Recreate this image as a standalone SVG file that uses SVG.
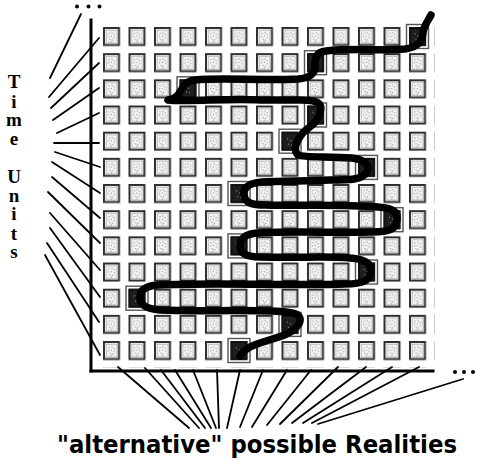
<svg xmlns="http://www.w3.org/2000/svg" xmlns:xlink="http://www.w3.org/1999/xlink" width="480" height="463" viewBox="0 0 480 463">
<style>
.ax{stroke:#000;stroke-width:3;fill:none;stroke-linecap:square}
.tk{stroke:#000;stroke-width:1.8;fill:none;stroke-linecap:round}
.snake{stroke:#000;stroke-width:7.5;fill:none;stroke-linecap:round;stroke-linejoin:round}
.lbl{font-family:"Liberation Serif","DejaVu Serif",serif;font-weight:bold;font-size:19px;text-anchor:middle;fill:#000}
.cap{font-family:"DejaVu Sans","Liberation Sans",sans-serif;font-weight:bold;font-size:24px;fill:#000}
</style>
<defs>
<g id="c">
<rect x="1" y="1" width="15" height="17" fill="#fff" stroke="#2e2e2e" stroke-width="2"/>
<rect x="3.2" y="3.2" width="10.6" height="12.6" fill="#f4f4f4" stroke="#b0b0b0" stroke-width="0.8"/>
<g fill="#808080">
<circle cx="6" cy="6.5" r="0.6"/><circle cx="9" cy="5.8" r="0.6"/><circle cx="11" cy="7.5" r="0.6"/>
<circle cx="5.5" cy="9.5" r="0.6"/><circle cx="8.3" cy="9" r="0.6"/><circle cx="11.2" cy="10.5" r="0.6"/>
<circle cx="7" cy="12.3" r="0.6"/><circle cx="9.5" cy="13" r="0.6"/><circle cx="8.2" cy="14.6" r="0.6"/>
</g>
</g>
<g id="h">
<rect x="-2.5" y="-2.5" width="22" height="24" fill="none" stroke="#555" stroke-width="1.4"/>
<rect x="1" y="1" width="15" height="17" fill="#1e1e1e" stroke="#111" stroke-width="1.9"/>
<g fill="#777">
<circle cx="6" cy="7" r="0.7"/><circle cx="9" cy="9" r="0.7"/><circle cx="7" cy="12.5" r="0.7"/><circle cx="10" cy="13.5" r="0.7"/>
</g>
</g>
<pattern id="grid" x="103" y="27" width="25.5" height="26.17" patternUnits="userSpaceOnUse">
<use xlink:href="#c"/>
</pattern>
</defs>
<rect width="480" height="463" fill="#fff"/>

<g id="cells">
<rect x="103" y="27" width="331.5" height="340.2" fill="url(#grid)"/>
</g>

<g id="highlighted">
<use xlink:href="#h" x="409" y="27"/>
<use xlink:href="#h" x="307" y="53.2"/>
<use xlink:href="#h" x="179.5" y="79.3"/>
<use xlink:href="#h" x="307" y="105.5"/>
<use xlink:href="#h" x="281.5" y="131.7"/>
<use xlink:href="#h" x="358" y="157.9"/>
<use xlink:href="#h" x="230.5" y="184"/>
<use xlink:href="#h" x="383.5" y="210.2"/>
<use xlink:href="#h" x="230.5" y="236.4"/>
<use xlink:href="#h" x="358" y="262.5"/>
<use xlink:href="#h" x="128.5" y="288.7"/>
<use xlink:href="#h" x="281.5" y="314.9"/>
<use xlink:href="#h" x="230.5" y="341"/>
</g>

<g id="path">
<path class="snake" d="M431,15 C428,21 424,25 423,33 C422,42 418,47 405,49 C380,51 352,48 326,51 C316,52 315,58 315,66 C315,74 310,78 298,79 C260,81 222,77 195,80 C183,81 182,91 177,96 C173,100 167,100 168,100 C190,102 230,98 260,100 L302,100 C322,100 322,106 320,113 C318,124 306,128 302,134 C296,142 293,150 298,155 C304,158 330,156 352,158 C368,160 370,168 367,172 C362,180 350,180 330,180 C300,181 280,181 262,182 C246,183 243,190 244,195 C245,203 252,205 265,205 C300,206 340,204 378,207 C396,208 398,214 397,220 C396,229 390,232 372,232 C330,233 290,231 258,233 C243,234 240,240 240,246 C240,253 246,257 260,257 C300,258 330,256 350,258 C368,259 372,266 371,272 C370,280 364,284 345,284 C290,286 220,282 158,285 C144,286 140,291 140,297 C140,305 146,309 160,310 C200,312 250,309 286,312 C300,313 302,318 299,324 C294,333 280,337 266,341 C252,345 244,349 240,356"/>
</g>

<g id="axes">
<line class="ax" x1="91" y1="20" x2="91" y2="371"/>
<line class="ax" x1="91" y1="371" x2="433" y2="371"/>
<circle cx="77" cy="6.5" r="2"/><circle cx="88.5" cy="6.5" r="2"/><circle cx="99.5" cy="6.5" r="2"/>
<circle cx="455" cy="372" r="2"/><circle cx="464" cy="372" r="2"/><circle cx="473" cy="372" r="2"/>
</g>

<g id="connectors">
<line class="tk" x1="50" y1="78" x2="81" y2="14"/>
<line class="tk" x1="49" y1="97" x2="99" y2="38"/>
<line class="tk" x1="51" y1="108" x2="99" y2="63"/>
<line class="tk" x1="53" y1="120" x2="99" y2="88"/>
<line class="tk" x1="57" y1="133" x2="99" y2="113"/>
<line class="tk" x1="54" y1="143" x2="99" y2="143"/>
<line class="tk" x1="55" y1="152" x2="100" y2="167"/>
<line class="tk" x1="52" y1="162" x2="100" y2="193"/>
<line class="tk" x1="52" y1="177" x2="100" y2="218"/>
<line class="tk" x1="48" y1="192" x2="100" y2="243"/>
<line class="tk" x1="50" y1="213" x2="100" y2="270"/>
<line class="tk" x1="50" y1="228" x2="100" y2="297"/>
<line class="tk" x1="47" y1="243" x2="99" y2="322"/>
<line class="tk" x1="45" y1="255" x2="100" y2="355"/>

<line class="tk" x1="118" y1="367" x2="189" y2="428"/>
<line class="tk" x1="145" y1="368" x2="199" y2="428"/>
<line class="tk" x1="161" y1="370" x2="205" y2="428"/>
<line class="tk" x1="175" y1="370" x2="211" y2="428"/>
<line class="tk" x1="193" y1="370" x2="216" y2="428"/>
<line class="tk" x1="217" y1="370" x2="219" y2="428"/>
<line class="tk" x1="240" y1="370" x2="227" y2="428"/>
<line class="tk" x1="263" y1="370" x2="240" y2="427"/>
<line class="tk" x1="287" y1="370" x2="252" y2="427"/>
<line class="tk" x1="311" y1="370" x2="267" y2="425"/>
<line class="tk" x1="338" y1="367" x2="280" y2="424"/>
<line class="tk" x1="366" y1="367" x2="292" y2="423"/>
<line class="tk" x1="392" y1="367" x2="303" y2="423"/>
<line class="tk" x1="419" y1="367" x2="312" y2="423"/>
<line class="tk" x1="463" y1="379" x2="318" y2="424"/>
</g>

<g id="labels">
<text class="lbl"><tspan x="14" y="88">T</tspan><tspan x="14" y="108">i</tspan><tspan x="14" y="126">m</tspan><tspan x="14" y="145">e</tspan><tspan x="14" y="183">U</tspan><tspan x="14" y="202">n</tspan><tspan x="14" y="220">i</tspan><tspan x="14" y="240">t</tspan><tspan x="14" y="258">s</tspan></text>
<text class="cap" x="57" y="453" textLength="400" lengthAdjust="spacingAndGlyphs">"alternative" possible Realities</text>
</g>
</svg>
